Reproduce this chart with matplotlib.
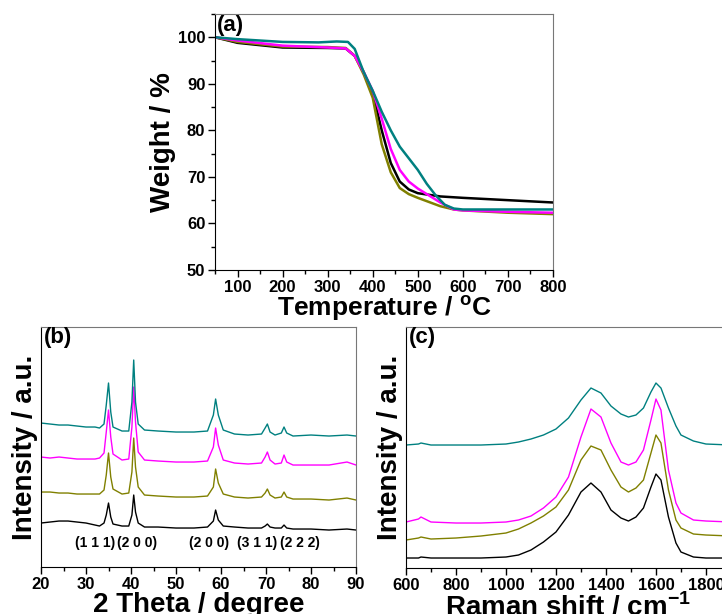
import matplotlib
matplotlib.use('Agg')
import matplotlib.pyplot as plt
from matplotlib.ticker import MultipleLocator

plt.rcParams['font.family'] = ['Liberation Sans', 'DejaVu Sans']
plt.rcParams['font.weight'] = 'bold'
plt.rcParams['mathtext.fontset'] = 'custom'
plt.rcParams['mathtext.rm'] = 'Liberation Sans:bold'

colors = ['#000000', '#808000', '#ff00ff', '#008080']

# (a) TGA
temp_k = [50, 100, 200, 300, 340, 360, 380, 400, 420, 440, 460, 480, 500, 550, 600, 700, 800]
tga_black = [100, 98.8, 97.8, 97.7, 97.6, 96, 92.5, 88, 80, 73, 69, 67.3, 66.5, 65.8, 65.5, 65, 64.5]
temp_o = [50, 100, 200, 300, 340, 360, 380, 400, 420, 440, 460, 480, 500, 550, 580, 600, 700, 800]
tga_olive = [100, 99, 98, 97.9, 97.7, 96, 92, 87, 77, 71, 67.6, 66.3, 65.5, 63.7, 63, 62.8, 62.3, 62]
tga_magenta = [100, 99.3, 98.2, 97.8, 97.6, 96, 92.5, 88.5, 82.5, 76, 71.5, 69, 67.5, 64.5, 63, 62.8, 62.5, 62.3]
temp_t = [50, 100, 200, 280, 320, 345, 360, 380, 400, 420, 440, 460, 480, 500, 520, 540, 560, 580, 600, 700, 800]
tga_teal = [100, 99.6, 99, 98.9, 99.1, 99, 97.5, 92.5, 88.5, 84, 80, 76.5, 74, 71.5, 68.5, 66, 64, 63.2, 63, 63, 63]

# (b) XRD
two_theta = [20, 22, 24, 26, 28, 30, 32, 33, 34, 34.5, 35, 35.5, 36, 38, 39.5, 40.2, 40.6, 41, 41.6, 43, 46,
             50, 54, 57, 58.3, 58.8, 59.4, 60.5, 63, 66, 69, 69.8, 70.3, 70.9, 72, 73.4, 74, 74.6, 76, 80, 84, 88, 90]
xrd_black = [44, 45, 46, 46, 45, 44, 42, 41, 44, 52, 64, 50, 43, 41, 41, 52, 72, 55, 44, 40, 40,
             39, 39, 40, 46, 57, 47, 41, 40, 39, 39, 41, 43, 40, 39, 39, 42, 39, 38, 38, 37, 38, 37]
xrd_olive = [75, 75, 74, 74, 73, 73, 73, 73, 77, 92, 114, 90, 78, 73, 74, 95, 129, 100, 80, 72, 71,
             70, 70, 71, 80, 98, 84, 73, 70, 69, 70, 74, 78, 72, 69, 70, 75, 70, 68, 68, 67, 69, 67]
xrd_magenta = [110, 109, 110, 109, 108, 108, 108, 109, 114, 135, 157, 130, 113, 107, 108, 140, 180, 145, 115, 107, 106,
               105, 105, 106, 120, 139, 122, 107, 104, 103, 104, 110, 115, 107, 103, 104, 112, 105, 102, 102, 102, 105, 102]
xrd_teal = [144, 143, 142, 142, 141, 140, 140, 139, 143, 162, 184, 155, 140, 136, 136, 165, 207, 165, 143, 137, 136,
            135, 135, 136, 152, 168, 152, 137, 133, 132, 133, 139, 143, 135, 132, 134, 140, 134, 131, 132, 131, 132, 131]
hkl_labels = ['(1 1 1)', '(2 0 0)', '(2 0 0)', '(3 1 1)', '(2 2 2)']
hkl_pos = [32.0, 41.3, 57.3, 68.0, 77.5]

# (c) Raman
raman_x = [600, 650, 660, 700, 800, 900, 1000, 1050, 1100, 1150, 1200, 1250, 1300, 1340, 1380, 1420, 1460,
           1490, 1520, 1550, 1580, 1600, 1620, 1650, 1680, 1700, 1750, 1800, 1900]
raman_black = [10, 10, 11, 10, 10, 10, 11, 13, 18, 26, 36, 53, 76, 85, 76, 58, 50,
               47, 51, 60, 81, 94, 88, 51, 25, 16, 11, 10, 10]
raman_olive = [28, 30, 31, 29, 30, 32, 35, 39, 45, 52, 61, 78, 108, 122, 118, 98, 81,
               76, 80, 88, 115, 133, 125, 78, 48, 40, 34, 33, 32]
raman_magenta = [46, 49, 51, 46, 45, 45, 46, 48, 52, 60, 71, 91, 131, 159, 151, 125, 106,
                 103, 106, 118, 148, 169, 158, 98, 65, 55, 48, 47, 46]
raman_teal = [123, 124, 125, 123, 123, 123, 124, 126, 129, 133, 139, 150, 168, 180, 175, 162, 154,
              151, 153, 160, 176, 185, 180, 160, 142, 133, 127, 124, 123]

fig = plt.figure(figsize=(7.22, 6.14), dpi=100)


def style(ax):
    for s in ['top', 'right']:
        ax.spines[s].set_color('#777777')
    ax.tick_params(which='both', direction='out', top=False, right=False, labelsize=12, width=1, pad=2)
    ax.tick_params(which='major', length=5)
    ax.tick_params(which='minor', length=3)
    for lab in ax.get_xticklabels() + ax.get_yticklabels():
        lab.set_fontweight('bold')


ax1 = fig.add_axes([0.2978, 0.5603, 0.4681, 0.4169])
ax1.plot(temp_k, tga_black, color=colors[0], lw=1.8)
ax1.plot(temp_o, tga_olive, color=colors[1], lw=1.8)
ax1.plot(temp_o, tga_magenta, color=colors[2], lw=1.8)
ax1.plot(temp_t, tga_teal, color=colors[3], lw=1.8)
ax1.set_xlim(50, 800)
ax1.set_ylim(50, 105)
ax1.xaxis.set_major_locator(MultipleLocator(100))
ax1.xaxis.set_minor_locator(MultipleLocator(50))
ax1.yaxis.set_major_locator(MultipleLocator(10))
ax1.yaxis.set_minor_locator(MultipleLocator(5))
ax1.set_xlabel('Temperature / $^{\\mathregular{o}}$C', fontsize=19, fontweight='bold', labelpad=-1)
ax1.set_ylabel('Weight / %', fontsize=20, fontweight='bold', labelpad=1)
style(ax1)
ax1.text(0.005, 0.998, '(a)', transform=ax1.transAxes, fontsize=16, fontweight='bold', va='top', ha='left')

ax2 = fig.add_axes([0.0568, 0.0765, 0.4363, 0.3909])
for ys, c in zip([xrd_black, xrd_olive, xrd_magenta, xrd_teal], colors):
    ax2.plot(two_theta, ys, color=c, lw=1)
ax2.set_xlim(20, 90)
ax2.set_ylim(0, 240)
ax2.xaxis.set_major_locator(MultipleLocator(10))
ax2.xaxis.set_minor_locator(MultipleLocator(5))
ax2.set_yticks([])
for lab, p in zip(hkl_labels, hkl_pos):
    ax2.text(p, 24, lab, ha='center', va='center', fontsize=10, fontweight='bold')
ax2.set_xlabel('2 Theta / degree', fontsize=20, fontweight='bold', labelpad=0)
ax2.set_ylabel('Intensity / a.u.', fontsize=20, fontweight='bold', labelpad=2)
style(ax2)
ax2.text(0.01, 0.998, '(b)', transform=ax2.transAxes, fontsize=16, fontweight='bold', va='top', ha='left')

ax3 = fig.add_axes([0.5623, 0.0749, 0.4501, 0.3925])
for ys, c in zip([raman_black, raman_olive, raman_magenta, raman_teal], colors):
    ax3.plot(raman_x, ys, color=c, lw=1)
ax3.set_xlim(600, 1900)
ax3.set_ylim(0, 241)
ax3.xaxis.set_major_locator(MultipleLocator(200))
ax3.xaxis.set_minor_locator(MultipleLocator(100))
ax3.set_yticks([])
ax3.set_xlabel('Raman shift / cm$^{\\mathregular{-1}}$', fontsize=20, fontweight='bold', labelpad=0)
ax3.set_ylabel('Intensity / a.u.', fontsize=20, fontweight='bold', labelpad=2)
style(ax3)
ax3.text(0.01, 0.998, '(c)', transform=ax3.transAxes, fontsize=16, fontweight='bold', va='top', ha='left')

fig.savefig('out.png', dpi=100)
